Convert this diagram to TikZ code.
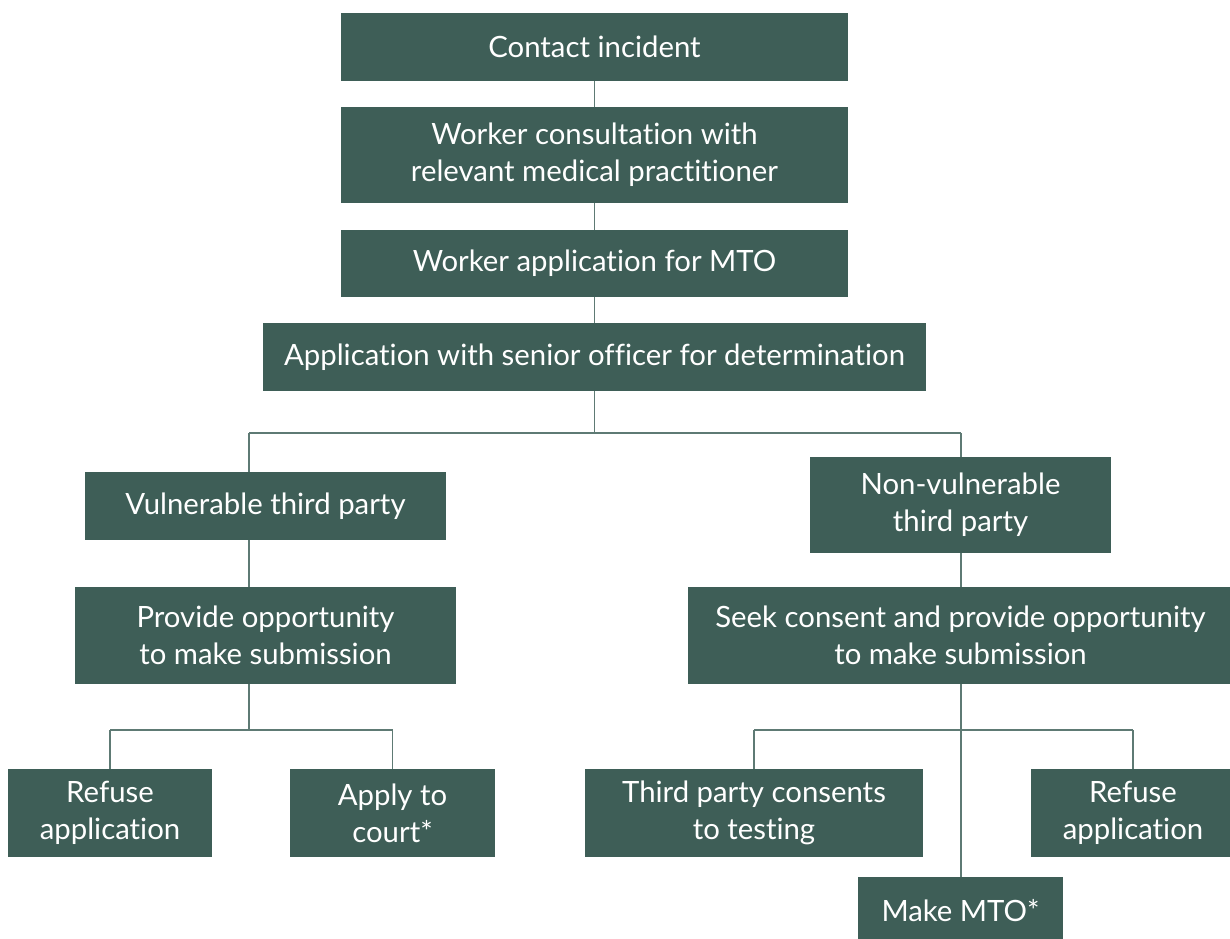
\documentclass[tikz,border=0pt]{standalone}
\usepackage{fontspec}
\setmainfont{Lato}[Ligatures=NoCommon]
\usetikzlibrary{positioning}
\definecolor{boxgreen}{HTML}{3E5E57}
\definecolor{linkgrey}{HTML}{5E7A74}

\begin{document}
\begin{tikzpicture}[x=0.75pt, y=-0.75pt,
  stepbox/.style={fill=boxgreen, text=white, align=center, inner sep=0pt,
    font=\fontsize{22}{27.75}\selectfont},
  link/.style={draw=linkgrey, line width=1.3pt}]
  \useasboundingbox (0,0) rectangle (1230,938);
  % main chain
  \node[stepbox, minimum width=507*0.75pt, minimum height=68*0.75pt] (contact) at (594.5,47) {Contact incident};
  \node[stepbox, minimum width=507*0.75pt, minimum height=96*0.75pt] (consult) at (594.5,155)
    {Worker consultation with\\relevant medical practitioner};
  \node[stepbox, minimum width=507*0.75pt, minimum height=67*0.75pt] (apply) at (594.5,263.5) {Worker application for MTO};
  \node[stepbox, minimum width=663*0.75pt, minimum height=68*0.75pt] (senior) at (594.5,357)
    {Application with senior officer for determination};
  % two kinds of third party
  \node[stepbox, minimum width=361*0.75pt, minimum height=68*0.75pt] (vul) at (265.5,506) {Vulnerable third party};
  \node[stepbox, minimum width=301*0.75pt, minimum height=96*0.75pt] (nonvul) at (960.5,505)
    {Non-vulnerable\\third party};
  \node[stepbox, minimum width=381*0.75pt, minimum height=97*0.75pt] (provide) at (265.5,635.5)
    {Provide opportunity\\to make submission};
  \node[stepbox, minimum width=545*0.75pt, minimum height=97*0.75pt] (seek) at (960.5,635.5)
    {Seek consent and provide opportunity\\to make submission};
  % outcomes
  \node[stepbox, minimum width=204*0.75pt, minimum height=88*0.75pt] (refuseL) at (110,813) {Refuse\\application};
  \node[stepbox, minimum width=205*0.75pt, minimum height=88*0.75pt] (court) at (392.5,813) {Apply to\\court*};
  \node[stepbox, minimum width=338*0.75pt, minimum height=88*0.75pt] (consents) at (754,813)
    {Third party consents\\to testing};
  \node[stepbox, minimum width=204*0.75pt, minimum height=88*0.75pt] (refuseR) at (1133,813) {Refuse\\application};
  \node[stepbox, minimum width=205*0.75pt, minimum height=68*0.75pt] (mto) at (960.5,911) {Make MTO*};

  % branch points
  \coordinate (top) at (594.5,433);
  \coordinate (lbr) at (249,433);
  \coordinate (rbr) at (961,433);
  \coordinate (lsplit) at (249,730);
  \coordinate (rsplit) at (961,730);

  \draw[link] (contact) -- (consult);
  \draw[link] (consult) -- (apply);
  \draw[link] (apply) -- (senior);
  \draw[link] (senior) -- (top);
  \draw[link] (lbr) -- (rbr);
  \draw[link] (lbr) -- (lbr |- vul.north);
  \draw[link] (rbr) -- (rbr |- nonvul.north);
  \draw[link] (lbr |- vul.south) -- (lbr |- provide.north);
  \draw[link] (rbr |- nonvul.south) -- (rbr |- seek.north);
  % left outcomes
  \draw[link] (lsplit |- provide.south) -- (lsplit);
  \draw[link] (refuseL.north |- lsplit) -- (court.north |- lsplit);
  \draw[link] (refuseL.north |- lsplit) -- (refuseL);
  \draw[link] (court.north |- lsplit) -- (court);
  % right outcomes
  \draw[link] (rsplit |- seek.south) -- (rsplit |- mto.north);
  \draw[link] (consents.north |- rsplit) -- (refuseR.north |- rsplit);
  \draw[link] (consents.north |- rsplit) -- (consents);
  \draw[link] (refuseR.north |- rsplit) -- (refuseR);
\end{tikzpicture}
\end{document}
